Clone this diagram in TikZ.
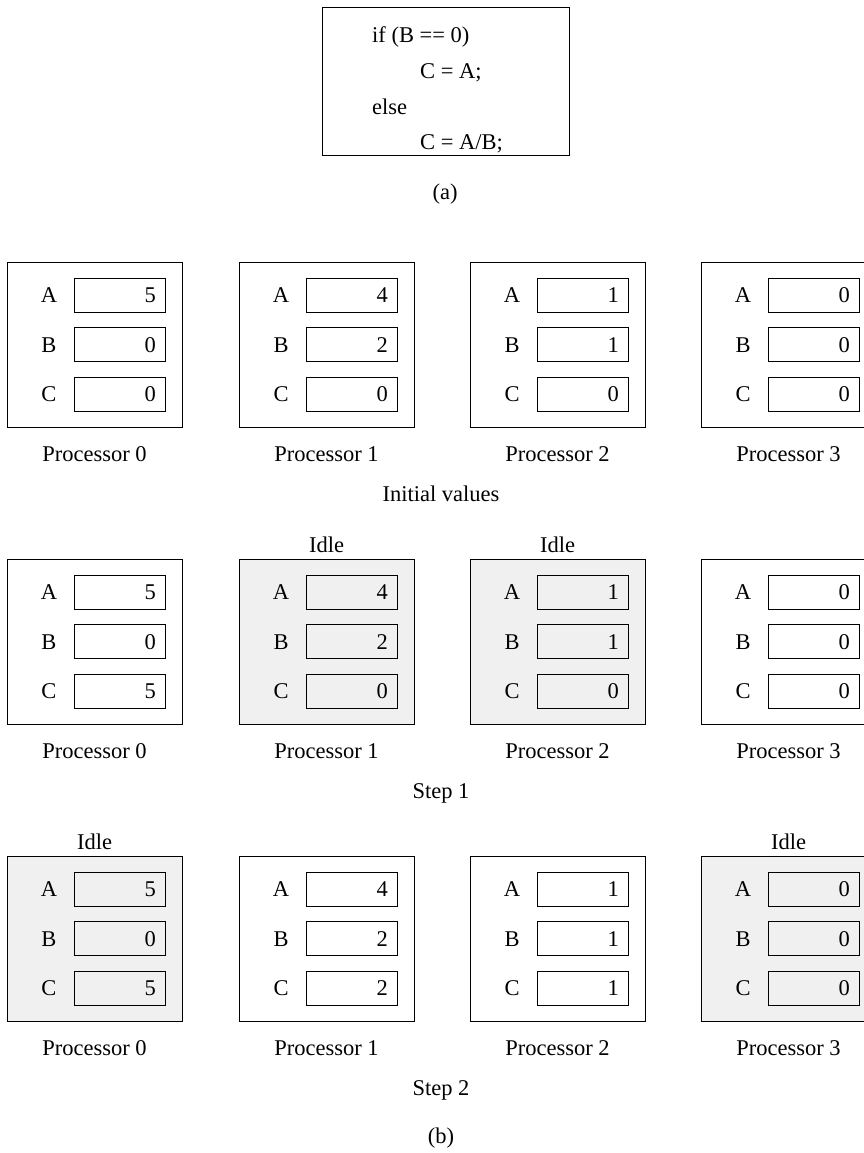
\documentclass[tikz,border=0pt]{standalone}
\usepackage{fontspec}
\setmainfont{Liberation Serif}
\definecolor{idlegrey}{RGB}{240,240,240}
\tikzset{
  frame/.style={draw=black, line width=0.9pt, inner sep=0pt, anchor=north west},
  cell/.style={draw=black, line width=0.9pt, inner sep=0pt, anchor=west, minimum width=91pt, minimum height=34pt},
  txt/.style={font=\fontsize{22.5}{27}\selectfont, inner sep=0pt, anchor=base},
  txtr/.style={txt, anchor=base east},
  txtl/.style={txt, anchor=base west},
}
\newcommand\pbox[8]{% #1 name, #2 X, #3 T, #4 A, #5 B, #6 C, #7 fill, #8 idle text
  \node[frame, fill=#7, minimum width=175pt, minimum height=165pt] (#1) at (#2,#3) {};
  \foreach \lab/\val [count=\i from 0] in {A/#4, B/#5, C/#6} {
    \pgfmathsetmacro\cy{#3+33+49.5*\i}
    \node[cell, fill=#7] (#1\lab) at (#2+67,\cy) {};
    \node[txt] (#1\lab l) at (#2+42,\cy+7.6) {\lab};
    \node[txtr] (#1\lab v) at (#2+149,\cy+7.6) {\val};
  }
  \node[txt] (#1name) at (#2+87.5,#3+199.6) {Processor \csname pnum#1\endcsname};
  \node[txt] (#1idle) at (#2+87.5,#3-6.4) {#8};
}
\begin{document}
\begin{tikzpicture}[x=1pt,y=-1pt]
\useasboundingbox (0,0) rectangle (864,1153);
% (a)
\node[frame, minimum width=247pt, minimum height=148pt] (code) at (322,7) {};
\node[txtl] (l1) at (372,42.6) {if (B == 0)};
\node[txtl] (l2) at (420,78.6) {C = A;};
\node[txtl] (l3) at (372,114.6) {else};
\node[txtl] (l4) at (420,149.6) {C = A/B;};
\node[txt] (capa) at (445,199.6) {(a)};
% number names
\expandafter\def\csname pnumaa\endcsname{0}
\expandafter\def\csname pnumab\endcsname{1}
\expandafter\def\csname pnumac\endcsname{2}
\expandafter\def\csname pnumad\endcsname{3}
\expandafter\def\csname pnumba\endcsname{0}
\expandafter\def\csname pnumbb\endcsname{1}
\expandafter\def\csname pnumbc\endcsname{2}
\expandafter\def\csname pnumbd\endcsname{3}
\expandafter\def\csname pnumca\endcsname{0}
\expandafter\def\csname pnumcb\endcsname{1}
\expandafter\def\csname pnumcc\endcsname{2}
\expandafter\def\csname pnumcd\endcsname{3}
% initial values
\pbox{aa}{7}{262}{5}{0}{0}{white}{}
\pbox{ab}{239}{262}{4}{2}{0}{white}{}
\pbox{ac}{470}{262}{1}{1}{0}{white}{}
\pbox{ad}{701}{262}{0}{0}{0}{white}{}
\node[txt] (init) at (441,501.6) {Initial values};
% step 1
\pbox{ba}{7}{559}{5}{0}{5}{white}{}
\pbox{bb}{239}{559}{4}{2}{0}{idlegrey}{Idle}
\pbox{bc}{470}{559}{1}{1}{0}{idlegrey}{Idle}
\pbox{bd}{701}{559}{0}{0}{0}{white}{}
\node[txt] (step1) at (441,798.6) {Step 1};
% step 2
\pbox{ca}{7}{856}{5}{0}{5}{idlegrey}{Idle}
\pbox{cb}{239}{856}{4}{2}{2}{white}{}
\pbox{cc}{470}{856}{1}{1}{1}{white}{}
\pbox{cd}{701}{856}{0}{0}{0}{idlegrey}{Idle}
\node[txt] (step2) at (441,1095.6) {Step 2};
\node[txt] (capb) at (441,1143.6) {(b)};
\end{tikzpicture}
\end{document}
